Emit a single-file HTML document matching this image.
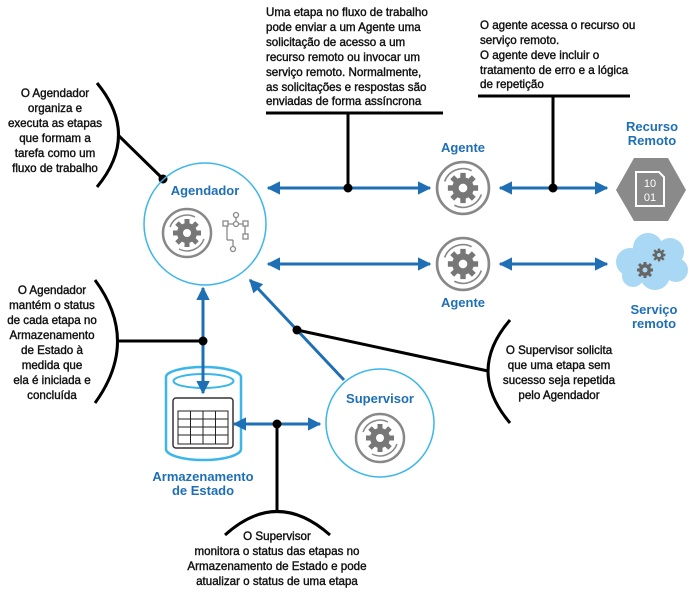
<!DOCTYPE html>
<html><head><meta charset="utf-8"><style>
body{margin:0;background:#fff}
svg{display:block}
.t{font-family:"Liberation Sans",sans-serif;font-size:11.6px;fill:#111;stroke:#111;stroke-width:0.4px}
.b{font-family:"Liberation Sans",sans-serif;font-size:13px;font-weight:bold;fill:#1f6fb5}
</style></head><body>
<svg width="693" height="597" viewBox="0 0 693 597">
<defs>
<marker id="a" viewBox="0 0 10 10" refX="9" refY="5" markerWidth="4.5" markerHeight="4.5" orient="auto-start-reverse"><path d="M0,0L10,5L0,10z" fill="#1f6fb5"/></marker>
<g id="gear">
<circle r="24" fill="none" stroke="#888" stroke-width="2.5"/>
<path d="M-17,-6A18,18 0 0 1 8,-16" fill="none" stroke="#888" stroke-width="1.5"/>
<path d="M17,6A18,18 0 0 1 -8,16" fill="none" stroke="#888" stroke-width="1.5"/>
<circle r="10" fill="#777"/>
<g stroke="#777" stroke-width="5">
<line x1="0" y1="-14" x2="0" y2="14"/><line x1="-14" y1="0" x2="14" y2="0"/>
<line x1="-10" y1="-10" x2="10" y2="10"/><line x1="10" y1="-10" x2="-10" y2="10"/></g>
<circle r="4" fill="#fff"/>
</g>
<g id="sg"><circle r="6" fill="#666"/><g stroke="#666" stroke-width="3"><line x1="0" y1="-8" x2="0" y2="8"/><line x1="-8" y1="0" x2="8" y2="0"/><line x1="-6" y1="-6" x2="6" y2="6"/><line x1="6" y1="-6" x2="-6" y2="6"/></g><circle r="2.5" fill="#a8d8f3"/></g>
</defs>

<!-- top texts -->
<g class="t">
<text x="266" y="16">Uma etapa no fluxo de trabalho</text>
<text x="266" y="31">pode enviar a um Agente uma</text>
<text x="266" y="46">solicitação de acesso a um</text>
<text x="266" y="61">recurso remoto ou invocar um</text>
<text x="266" y="76">serviço remoto. Normalmente,</text>
<text x="266" y="91">as solicitações e respostas são</text>
<text x="266" y="105">enviadas de forma assíncrona</text>
<text x="480" y="29">O agente acessa o recurso ou</text>
<text x="480" y="44">serviço remoto.</text>
<text x="480" y="59">O agente deve incluir o</text>
<text x="480" y="74">tratamento de erro e a lógica</text>
<text x="480" y="88">de repetição</text>
</g>
<g class="t" text-anchor="middle">
<text x="55" y="97">O Agendador</text>
<text x="55" y="112">organiza e</text>
<text x="55" y="127">executa as etapas</text>
<text x="55" y="142">que formam a</text>
<text x="55" y="157">tarefa como um</text>
<text x="55" y="172">fluxo de trabalho</text>
<text x="52" y="294">O Agendador</text>
<text x="52" y="309">mantém o status</text>
<text x="52" y="324">de cada etapa no</text>
<text x="52" y="339">Armazenamento</text>
<text x="52" y="354">de Estado à</text>
<text x="52" y="369">medida que</text>
<text x="52" y="384">ela é iniciada e</text>
<text x="52" y="399">concluída</text>
<text x="559" y="354">O Supervisor solicita</text>
<text x="559" y="369">que uma etapa sem</text>
<text x="559" y="384">sucesso seja repetida</text>
<text x="559" y="399">pelo Agendador</text>
<text x="277" y="540">O Supervisor</text>
<text x="277" y="555">monitora o status das etapas no</text>
<text x="277" y="570">Armazenamento de Estado e pode</text>
<text x="277" y="585">atualizar o status de uma etapa</text>
</g>

<!-- Storage -->
<path d="M166,377A37.5,10 0 0 1 241,377V449A37.5,11 0 0 1 166,449Z" fill="#fff" stroke="#3bb6ea" stroke-width="2.5"/>
<ellipse cx="203.5" cy="381" rx="30" ry="7" fill="none" stroke="#3bb6ea" stroke-width="2"/>
<rect x="173" y="398" width="60" height="50" rx="3" fill="#fff" stroke="#333" stroke-width="1.5"/>
<g fill="none" stroke="#222" stroke-width="1">
<rect x="178" y="411" width="50" height="33"/>
<line x1="178" y1="419" x2="228" y2="419"/><line x1="178" y1="427" x2="228" y2="427"/><line x1="178" y1="435" x2="228" y2="435"/>
<line x1="190.5" y1="411" x2="190.5" y2="444"/><line x1="203" y1="411" x2="203" y2="444"/><line x1="215.5" y1="411" x2="215.5" y2="444"/>
</g>
<text class="b" x="203" y="481" text-anchor="middle">Armazenamento</text>
<text class="b" x="203" y="495" text-anchor="middle">de Estado</text>

<!-- black connectors -->
<g stroke="#000" stroke-width="3" fill="none">
<line x1="266" y1="113" x2="443" y2="113"/>
<line x1="348" y1="113" x2="348" y2="188"/>
<line x1="478" y1="96" x2="630" y2="96"/>
<line x1="553" y1="96" x2="553" y2="188"/>
<path d="M97,83Q140,135 97,187"/>
<line x1="118" y1="135" x2="163" y2="179"/>
<path d="M95,280Q140,341 95,403"/>
<line x1="117" y1="341" x2="203" y2="341"/>
<path d="M510,320Q466,371 510,423"/>
<line x1="488" y1="371" x2="297" y2="330"/>
<path d="M225,535Q277,488 330,535"/>
<line x1="277" y1="424" x2="277" y2="512"/>
</g>

<!-- blue arrows -->
<g stroke="#1f6fb5" stroke-width="3" fill="none" marker-start="url(#a)" marker-end="url(#a)">
<line x1="268" y1="188" x2="430" y2="188"/>
<line x1="268" y1="264" x2="430" y2="264"/>
<line x1="500" y1="188" x2="607" y2="188"/>
<line x1="500" y1="264" x2="607" y2="264"/>
<line x1="203" y1="288" x2="203" y2="393"/>
<line x1="234" y1="424" x2="320" y2="424"/>
</g>
<line x1="344" y1="380" x2="250" y2="280" stroke="#1f6fb5" stroke-width="3" marker-end="url(#a)"/>
<g fill="#000">
<circle cx="348" cy="188" r="4.5"/><circle cx="553" cy="188" r="4.5"/>
<circle cx="163" cy="179" r="4.5"/><circle cx="203" cy="341" r="4.5"/>
<circle cx="297" cy="330" r="4.5"/><circle cx="277" cy="424" r="4.5"/>
</g>

<!-- Agendador -->
<circle cx="205" cy="224" r="61" fill="none" stroke="#3bb6ea" stroke-width="1.5"/>
<text class="b" x="205" y="195" text-anchor="middle">Agendador</text>
<use href="#gear" x="187" y="233"/>
<g stroke="#888" stroke-width="1.3" fill="#fff">
<line x1="225" y1="224" x2="247" y2="224"/><line x1="236" y1="216" x2="236" y2="224"/>
<line x1="227" y1="224" x2="227" y2="240"/><line x1="227" y1="240" x2="233" y2="240"/><line x1="233" y1="240" x2="233" y2="248"/>
<line x1="245" y1="224" x2="245" y2="236"/>
<rect x="223" y="221" width="5" height="5"/><rect x="243" y="221" width="5" height="5"/><rect x="243" y="234" width="5" height="5"/>
<circle cx="236" cy="215" r="2.5"/><circle cx="236" cy="224" r="2.5"/><circle cx="233" cy="249" r="2.5"/>
</g>

<!-- Agents -->
<text class="b" x="463" y="152" text-anchor="middle">Agente</text>
<use href="#gear" x="463" y="188" transform="translate(463 188) scale(1.08) translate(-463 -188)"/>
<use href="#gear" x="463" y="264" transform="translate(463 264) scale(1.08) translate(-463 -264)"/>
<text class="b" x="463" y="307" text-anchor="middle">Agente</text>

<!-- Recurso -->
<text class="b" x="652" y="131" text-anchor="middle">Recurso</text>
<text class="b" x="652" y="145" text-anchor="middle">Remoto</text>
<polygon points="616,190 634,158 668,158 686,190 668,221 634,221" fill="#8a8a8a"/>
<path d="M636,172h23l5,5v29h-28z" fill="none" stroke="#fff" stroke-width="2"/>
<text x="650" y="187" text-anchor="middle" font-family="Liberation Sans,sans-serif" font-size="11" fill="#fff">10</text>
<text x="650" y="201" text-anchor="middle" font-family="Liberation Sans,sans-serif" font-size="11" fill="#fff">01</text>

<!-- Cloud -->
<g fill="#a8d8f3">
<circle cx="630" cy="262" r="14"/><circle cx="648" cy="248" r="15"/><circle cx="670" cy="252" r="14"/>
<circle cx="676" cy="270" r="12"/><circle cx="655" cy="275" r="15"/><circle cx="633" cy="276" r="11"/>
</g>
<use href="#sg" x="645" y="270"/>
<use href="#sg" x="659" y="255" transform="translate(659 255) scale(0.8) translate(-659 -255)"/>
<text class="b" x="654" y="314" text-anchor="middle">Serviço</text>
<text class="b" x="654" y="328" text-anchor="middle">remoto</text>

<!-- Supervisor -->
<circle cx="380" cy="423" r="54" fill="#fff" stroke="#3bb6ea" stroke-width="1.5"/>
<text class="b" x="380" y="403" text-anchor="middle">Supervisor</text>
<use href="#gear" x="380" y="438"/>
</svg>
</body></html>
